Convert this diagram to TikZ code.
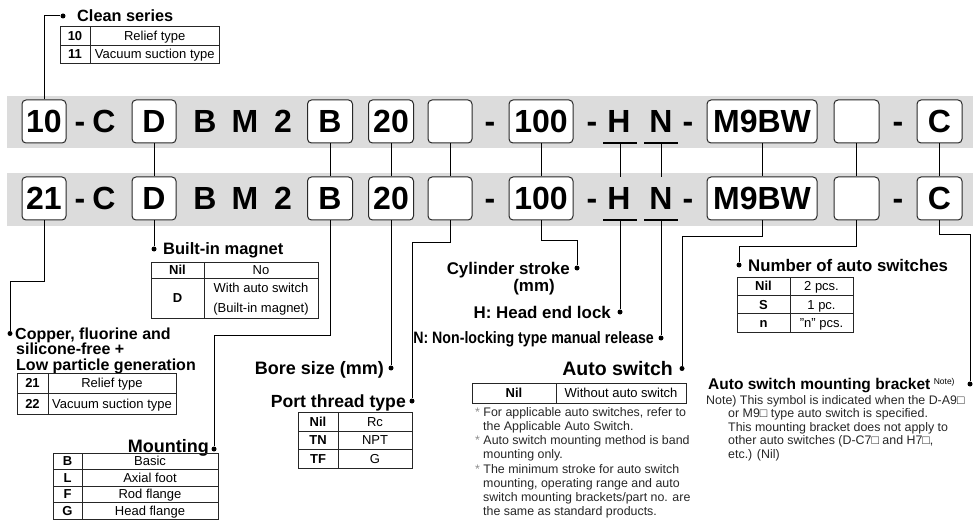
\documentclass[tikz,border=0pt]{standalone}
\usepackage{fontspec}
\usepackage{graphicx}
\setmainfont{Liberation Sans}
\definecolor{bandgray}{RGB}{220,220,220}
\definecolor{boxline}{RGB}{40,40,40}
\begin{document}
\begin{tikzpicture}[x=1pt,y=-1pt,
  codebox/.style={draw=boxline, line width=1pt, rounded corners=4pt, fill=white, minimum height=43pt, inner sep=0pt, font=\fontsize{32}{32}\selectfont\bfseries},
  codetxt/.style={anchor=base, inner sep=0pt, font=\fontsize{32}{32}\selectfont\bfseries},
  conn/.style={line width=1pt},
  tbl/.style={line width=0.9pt, draw=black!85},
  hdw/.style={inner sep=0pt, anchor=base west, font=\fontsize{#1}{#1}\selectfont\bfseries},
  hde/.style={inner sep=0pt, anchor=base east, font=\fontsize{#1}{#1}\selectfont\bfseries},
  cb/.style={inner sep=0pt, anchor=base, font=\fontsize{13}{15}\selectfont\bfseries},
  cr/.style={inner sep=0pt, anchor=base, font=\fontsize{13}{15}\selectfont},
  nt/.style={inner sep=0pt, anchor=base west, font=\fontsize{12.4}{14}\selectfont, text=black!85},
  dot/.style={circle, fill=black, inner sep=0pt, minimum size=5pt},
]
\useasboundingbox (0,0) rectangle (973,521);

% bands
\fill[bandgray] (7,96) rectangle (973,148.5);
\fill[bandgray] (7,173) rectangle (973,225.5);

% code rows
\foreach \r/\y/\f in {1/121.5/10, 2/198.5/21} {
  \node[codebox, minimum width=44pt] (first\r) at (44,\y) {\f};
  \node[codetxt] (da\r) at (80,{\y+11.5}) {-};
  \node[codetxt] (cc\r) at (104,{\y+11.5}) {C};
  \node[codebox, minimum width=44pt] (D\r) at (154,\y) {D};
  \node[codetxt] (lb\r) at (205,{\y+11.5}) {B};
  \node[codetxt] (lm\r) at (245,{\y+11.5}) {M};
  \node[codetxt] (l2\r) at (283,{\y+11.5}) {2};
  \node[codebox, minimum width=45pt] (B\r) at (330,\y) {B};
  \node[codebox, minimum width=45pt] (tw\r) at (391,\y) {20};
  \node[codebox, minimum width=44pt] (ea\r) at (450,\y) {};
  \node[codetxt] (db\r) at (490,{\y+11.5}) {-};
  \node[codebox, minimum width=64pt] (st\r) at (541,\y) {100};
  \node[codetxt] (dc\r) at (592,{\y+11.5}) {-};
  \node[codetxt] (hh\r) at (619,{\y+11.5}) {H};
  \node[codetxt] (nn\r) at (661,{\y+11.5}) {N};
  \node[codetxt] (dd\r) at (688,{\y+11.5}) {-};
  \node[codebox, minimum width=110pt] (sw\r) at (762,\y) {M9BW};
  \node[codebox, minimum width=45pt] (eb\r) at (856.5,\y) {};
  \node[codetxt] (de\r) at (898,{\y+11.5}) {-};
  \node[codebox, minimum width=45pt] (C\r) at (939.5,\y) {C};
  \coordinate (hl\r) at (620,{\y+21.5});
  \coordinate (ht\r) at (620,{\y-21.5});
  \coordinate (nl\r) at (661,{\y+21.5});
  \coordinate (nt\r) at (661,{\y-21.5});
  \draw[line width=1.3pt] (603,{\y+21.5}) -- (637,{\y+21.5});
  \draw[line width=1.3pt] (644,{\y+21.5}) -- (678,{\y+21.5});
}

% row 1 to row 2 connectors
\foreach \n in {D,B,tw,ea,st,sw,eb,C} {
  \draw[conn] (\n1.south) -- (\n2.north);
}
\draw[conn] (hl1) -- (ht2);
\draw[conn] (nl1) -- (nt2);

% ---------- Clean series ----------
\node[dot] (dclean) at (63,16) {};
\draw[conn] (first1.north) |- (dclean);
\node[hdw=16.3] (hclean) at (77,21.8) {Clean series};
\draw[tbl] (60,26.5) rectangle (219.5,63.5);
\draw[tbl] (90,26.5) -- (90,63.5);
\draw[tbl] (60,45) -- (219.5,45);
\node[cb] (c10) at (75,40.4) {10};
\node[cr] (c10t) at (154.75,40.4) {Relief type};
\node[cb] (c11) at (75,58.9) {11};
\node[cr] (c11t) at (154.75,58.9) {Vacuum suction type};

% ---------- Copper ----------
\node[dot] (d21) at (10,333.5) {};
\draw[conn] (first2.south) -- ++(0,61) -| (d21);
\node[hdw=16] (cop1) at (15,339.2) {Copper, fluorine and};
\node[hdw=16] (cop2) at (16,354.7) {silicone-free +};
\node[hdw=16] (cop3) at (16,370.2) {Low particle generation};
\draw[tbl] (17,373) rectangle (176,414);
\draw[tbl] (48,373) -- (48,414);
\draw[tbl] (17,393.5) -- (176,393.5);
\node[cb] (c21) at (32.5,387.8) {21};
\node[cr] (c21t) at (112,387.8) {Relief type};
\node[cb] (c22) at (32.5,408.3) {22};
\node[cr] (c22t) at (112,408.3) {Vacuum suction type};

% ---------- Built-in magnet ----------
\node[dot] (dmag) at (154,249) {};
\draw[conn] (D2.south) -- (dmag);
\node[hdw=16.5] (hmag) at (163,254.9) {Built-in magnet};
\draw[tbl] (151,262) rectangle (318,318);
\draw[tbl] (204,262) -- (204,318);
\draw[tbl] (151,278) -- (318,278);
\node[cb] (mnil) at (177.5,274.6) {Nil};
\node[cr] (mno) at (261,274.6) {No};
\node[cb] (md) at (177.5,302.6) {D};
\node[cr] (mw1) at (261,292.6) {With auto switch};
\node[cr] (mw2) at (261,312.6) {(Built-in magnet)};

% ---------- Mounting ----------
\node[dot] (dmnt) at (214,449) {};
\draw[conn] (B2.south) -- ++(0,115) -| (dmnt);
\node[hde=18] (hmnt) at (209,452.4) {Mounting};
\draw[tbl] (53,453) rectangle (218,519);
\draw[tbl] (82,453) -- (82,519);
\draw[tbl] (53,469.5) -- (218,469.5);
\draw[tbl] (53,486) -- (218,486);
\draw[tbl] (53,502.5) -- (218,502.5);
\node[cb] (mb) at (67.5,465.9) {B};
\node[cr] (mbt) at (150,465.9) {Basic};
\node[cb] (ml) at (67.5,482.4) {L};
\node[cr] (mlt) at (150,482.4) {Axial foot};
\node[cb] (mf) at (67.5,498.9) {F};
\node[cr] (mft) at (150,498.9) {Rod flange};
\node[cb] (mg) at (67.5,515.4) {G};
\node[cr] (mgt) at (150,515.4) {Head flange};

% ---------- Bore size ----------
\node[dot] (dbore) at (391,368) {};
\draw[conn] (tw2.south) -- (dbore);
\node[hde=18] (hbore) at (384,374.4) {Bore size (mm)};

% ---------- Port thread ----------
\node[dot] (dport) at (412,401) {};
\draw[conn] (ea2.south) -- ++(0,22) -| (dport);
\node[hde=17.6] (hport) at (406,407.3) {Port thread type};
\draw[tbl] (298,412.5) rectangle (412,468);
\draw[tbl] (338,412.5) -- (338,468);
\draw[tbl] (298,431) -- (412,431);
\draw[tbl] (298,449.5) -- (412,449.5);
\node[cb] (pn) at (318,426.4) {Nil};
\node[cr] (pnt) at (375,426.4) {Rc};
\node[cb] (ptn) at (318,444.9) {TN};
\node[cr] (ptnt) at (375,444.9) {NPT};
\node[cb] (ptf) at (318,463.4) {TF};
\node[cr] (ptft) at (375,463.4) {G};

% ---------- Cylinder stroke ----------
\node[dot] (dcyl) at (577,268) {};
\draw[conn] (st2.south) -- ++(0,20) -| (dcyl);
\node[hde=16.9] (hcyl) at (570,274) {Cylinder stroke};
\node[inner sep=0pt, anchor=base, font=\fontsize{16.9}{17}\selectfont\bfseries] (hcyl2) at (534,291) {(mm)};

% ---------- H ----------
\node[dot] (dh) at (620,312) {};
\draw[conn] (hl2) -- (dh);
\node[hde=16.9] (hhl) at (611,318) {H: Head end lock};

% ---------- N ----------
\node[dot] (dn) at (661,338) {};
\draw[conn] (nl2) -- (dn);
\node[hde=16.5] (hnl) at (654,343.9) {\scalebox{0.86}[1]{N: Non-locking type manual release}};

% ---------- Auto switch ----------
\node[dot] (das) at (682,368.5) {};
\draw[conn] (sw2.south) -- ++(0,16) -| (das);
\node[hde=19.5] (has) at (673,375.5) {Auto switch};
\draw[tbl] (472,383) rectangle (686,403);
\draw[tbl] (556,383) -- (556,403);
\node[cb] (an) at (514,397.6) {Nil};
\node[cr] (ant) at (621,397.6) {Without auto switch};
\node[nt] (a1) at (475,416.4) {\textcolor{black!45}{*} For applicable auto switches, refer to};
\node[nt] (a2) at (483,430.4) {the Applicable Auto Switch.};
\node[nt] (a3) at (475,444.9) {\textcolor{black!45}{*} Auto switch mounting method is band};
\node[nt] (a4) at (483,458.9) {mounting only.};
\node[nt] (a5) at (475,473.4) {\textcolor{black!45}{*} The minimum stroke for auto switch};
\node[nt] (a6) at (483,487.4) {mounting, operating range and auto};
\node[nt] (a7) at (483,501.4) {switch mounting brackets/part no. are};
\node[nt] (a8) at (483,515.4) {the same as standard products.};

% ---------- Number of auto switches ----------
\node[dot] (dnum) at (739,265) {};
\draw[conn] (eb2.south) -- ++(0,26) -| (dnum);
\node[hdw=16.8] (hnum) at (748,271) {Number of auto switches};
\draw[tbl] (737,277) rectangle (853,332);
\draw[tbl] (790,277) -- (790,332);
\draw[tbl] (737,295.3) -- (853,295.3);
\draw[tbl] (737,313.7) -- (853,313.7);
\node[cb] (nnil) at (763.5,290.8) {Nil};
\node[cr] (nnilt) at (821.5,290.8) {2 pcs.};
\node[cb] (ns) at (763.5,309.1) {S};
\node[cr] (nst) at (821.5,309.1) {1 pc.};
\node[cb] (nn) at (763.5,327.4) {n};
\node[cr] (nnt) at (821.5,327.4) {"n" pcs.};

% ---------- Auto switch mounting bracket ----------
\node[dot] (dbr) at (970,384) {};
\draw[conn] (C2.south) -- ++(0,14) -| (dbr);
\node[hdw=15.5] (hbr) at (708,389.5) {Auto switch mounting bracket};
\node[inner sep=0pt, anchor=base west, font=\fontsize{8.5}{8.5}\selectfont] (hbrn) at ([xshift=3pt,yshift=5pt]hbr.base east) {Note)};
\node[nt] (b1) at (706,404.4) {Note) This symbol is indicated when the D-A9□};
\node[nt] (b2) at (728,417.9) {or M9□ type auto switch is specified.};
\node[nt] (b3) at (728,431.4) {This mounting bracket does not apply to};
\node[nt] (b4) at (728,444.9) {other auto switches (D-C7□ and H7□,};
\node[nt] (b5) at (728,458.4) {etc.) (Nil)};

\end{tikzpicture}
\end{document}
